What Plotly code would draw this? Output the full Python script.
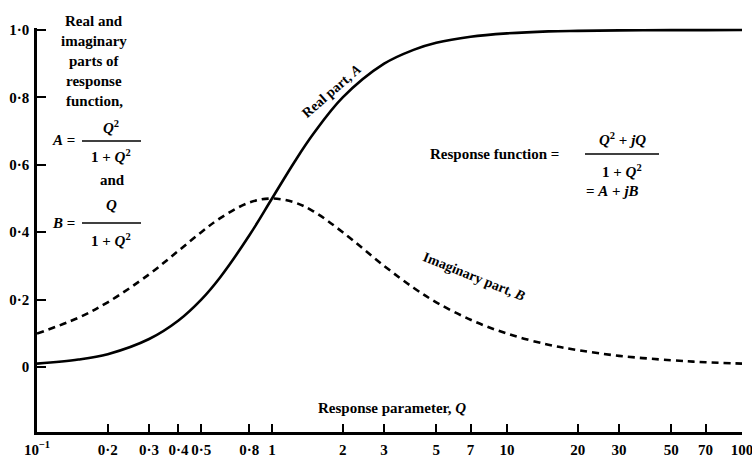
import plotly.graph_objects as go

# Response parameter Q and the two parts of the response function
q = [0.1, 0.15, 0.2, 0.3, 0.4, 0.5, 0.6, 0.8, 1.0, 1.25, 1.5, 2.0, 3.0, 4.0,
     5.0, 7.0, 10.0, 15.0, 20.0, 30.0, 50.0, 70.0, 100.0]
real_part = [0.010, 0.022, 0.038, 0.083, 0.138, 0.200, 0.265, 0.390, 0.500,
             0.610, 0.692, 0.800, 0.900, 0.941, 0.962, 0.980, 0.990, 0.996,
             0.9975, 0.9989, 0.9996, 0.9998, 0.9999]
imag_part = [0.099, 0.146, 0.192, 0.275, 0.345, 0.400, 0.441, 0.488, 0.500,
             0.488, 0.462, 0.400, 0.300, 0.235, 0.192, 0.140, 0.099, 0.066,
             0.050, 0.033, 0.020, 0.014, 0.010]

x_tick_vals = [0.1, 0.2, 0.3, 0.4, 0.5, 0.8, 1, 2, 3, 5, 7, 10, 20, 30, 50, 70, 100]
x_tick_text = ["10<sup>−1</sup>", "0·2", "0·3", "0·4", "0·5", "0·8", "1", "2", "3",
               "5", "7", "10", "20", "30", "50", "70", "100"]
y_tick_vals = [0, 0.2, 0.4, 0.6, 0.8, 1.0]
y_tick_text = ["0", "0·2", "0·4", "0·6", "0·8", "1·0"]

W, H = 752, 457
L, R, T, B = 37, 10, 28, 25
FONT = "Liberation Serif"


def px(x):
    return (x - L) / (W - L - R)


def py(y):
    return (H - B - y) / (H - T - B)


fig = go.Figure()
fig.add_trace(go.Scatter(x=q, y=real_part, mode="lines", line_shape="spline",
                         line=dict(color="black", width=2.6), name="A"))
fig.add_trace(go.Scatter(x=q, y=imag_part, mode="lines", line_shape="spline",
                         line=dict(color="black", width=2.6, dash="7px,5px"), name="B"))

ann = []


def text(x, y, s, size=15, angle=0):
    ann.append(dict(x=px(x), y=py(y), xref="paper", yref="paper", text=s,
                    showarrow=False, textangle=angle, xanchor="center", yanchor="middle",
                    font=dict(family=FONT, size=size, color="black")))


# Left-hand description of the curves
for i, line in enumerate(["Real and", "imaginary", "parts of", "response", "function,"]):
    text(94, 21 + 20 * i, "<b>%s</b>" % line)

text(63, 140, "<b><i>A</i> =</b>")
text(111, 127, "<b><i>Q</i><sup>2</sup></b>")
text(111, 156, "<b>1 + <i>Q</i><sup>2</sup></b>")
text(112, 180, "<b>and</b>")
text(63, 223, "<b><i>B</i> =</b>")
text(111, 205, "<b><i>Q</i></b>")
text(111, 240, "<b>1 + <i>Q</i><sup>2</sup></b>")

# Response function definition
text(494, 154, "<b>Response function =</b>")
text(622, 139, "<b><i>Q</i><sup>2</sup> + <i>jQ</i></b>")
text(622, 171, "<b>1 + <i>Q</i><sup>2</sup></b>")
text(612, 191, "<b>= <i>A</i> + <i>jB</i></b>")

# Curve labels and axis title
text(331, 91, "<b>Real part, <i>A</i></b>", size=14, angle=-41)
text(474, 276, "<b>Imaginary part, <i>B</i></b>", size=14, angle=22)
text(392, 408, "<b>Response parameter, <i>Q</i></b>")

shapes = []
for x0, x1, y in [(82, 141, 141), (82, 141, 223), (585, 659, 154)]:
    shapes.append(dict(type="line", xref="paper", yref="paper",
                       x0=px(x0), x1=px(x1), y0=py(y), y1=py(y),
                       line=dict(color="black", width=1.6)))

tick_font = dict(family=FONT, size=15, color="black")

fig.update_layout(
    width=W, height=H,
    margin=dict(l=L, r=R, t=T, b=B),
    paper_bgcolor="white", plot_bgcolor="white",
    showlegend=False,
    annotations=ann, shapes=shapes,
    font=dict(family=FONT, color="black"),
    xaxis=dict(type="log", range=[-1, 2], tickvals=x_tick_vals,
               ticktext=["<b>%s</b>" % t for t in x_tick_text],
               ticks="inside", ticklen=8, tickwidth=2, tickcolor="black",
               showline=True, linecolor="black", linewidth=2.5, showgrid=False,
               zeroline=False, tickfont=tick_font, ticklabelstandoff=2,
               ticklabeloverflow="allow", automargin=False),
    yaxis=dict(range=[-0.193, 1.006], tickvals=y_tick_vals,
               ticktext=["<b>%s</b>" % t for t in y_tick_text],
               ticks="inside", ticklen=9, tickwidth=2, tickcolor="black",
               showline=True, linecolor="black", linewidth=2.5, showgrid=False,
               zeroline=False, tickfont=tick_font, ticklabelstandoff=2,
               ticklabeloverflow="allow", automargin=False),
)

fig.write_html("out.html")
